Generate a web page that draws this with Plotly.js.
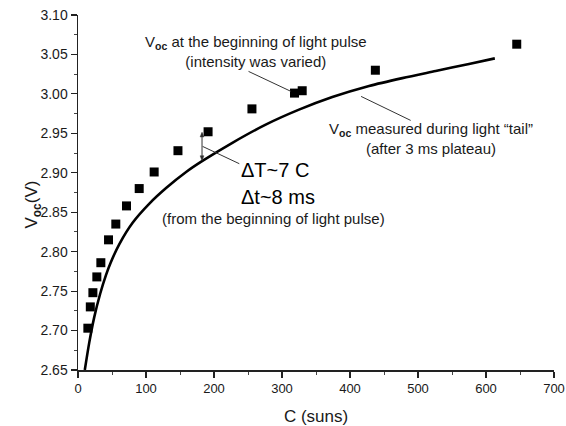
<!DOCTYPE html>
<html>
<head>
<meta charset="utf-8">
<script src="https://cdn.plot.ly/plotly-3.0.1.min.js"></script>
<style>
  html, body { margin: 0; padding: 0; background: #fff; }
  #chart { width: 566px; height: 426px; }
</style>
</head>
<body>
<div id="chart"></div>
<script>
// Voc at the beginning of light pulse (squares)
const pulseC = [14.5, 18.1, 21.9, 27.7, 33.6, 44.9, 55.6, 71.3, 90.0, 112, 147, 191.3, 255.8, 318.4, 329.7, 437.3, 645.2];
const pulseV = [2.703, 2.730, 2.748, 2.768, 2.786, 2.815, 2.835, 2.858, 2.880, 2.901, 2.928, 2.952, 2.981, 3.001, 3.004, 3.030, 3.063];

// Voc measured during light "tail" (solid curve)
const tailC = [10, 16.6, 23.9, 32.7, 41, 48, 61, 80.6, 105, 130, 159, 183, 227, 276, 325, 374, 428, 477, 526, 575, 613];
const tailV = [2.650, 2.685, 2.717, 2.747, 2.770, 2.786, 2.810, 2.837, 2.861, 2.881, 2.901, 2.915, 2.938, 2.961, 2.980, 2.996, 3.010, 3.020, 3.029, 3.038, 3.045];

const xTicks = [0, 100, 200, 300, 400, 500, 600, 700];
const yTicks = [2.65, 2.70, 2.75, 2.80, 2.85, 2.90, 2.95, 3.00, 3.05, 3.10];

const FONT = 'Liberation Sans, Arial, sans-serif';
const INK = '#1a1a1a';

const traces = [
  {
    x: tailC, y: tailV, type: 'scatter', mode: 'lines',
    line: {color: '#000', width: 2.6, shape: 'spline', smoothing: 0.8},
    cliponaxis: true, showlegend: false, hoverinfo: 'skip'
  },
  {
    x: pulseC, y: pulseV, type: 'scatter', mode: 'markers',
    marker: {symbol: 'square', size: 9, color: '#000'},
    showlegend: false, hoverinfo: 'skip'
  }
];

function leader(x0, y0, x1, y1) {
  return {type: 'line', xref: 'x', yref: 'y', x0: x0, y0: y0, x1: x1, y1: y1,
          line: {color: '#333', width: 1}};
}

const layout = {
  width: 566, height: 426,
  margin: {l: 78, r: 12, t: 15, b: 56},
  paper_bgcolor: '#fff', plot_bgcolor: '#fff',
  font: {family: FONT, color: INK, size: 14},
  showlegend: false,
  xaxis: {
    range: [0, 700], tickvals: xTicks, ticktext: xTicks.map(String),
    showgrid: false, zeroline: false,
    showline: true, linecolor: '#222', linewidth: 1.5,
    ticks: 'outside', ticklen: 6, tickwidth: 1.2, tickcolor: '#222',
    minor: {dtick: 50, ticks: 'outside', ticklen: 3, tickwidth: 1, tickcolor: '#444', showgrid: false},
    tickfont: {family: FONT, size: 13, color: INK},
    ticklabeloverflow: 'allow',
    title: {text: 'C (suns)', font: {family: FONT, size: 17, color: INK}, standoff: 17}
  },
  yaxis: {
    range: [2.65, 3.10], tickvals: yTicks, ticktext: yTicks.map(v => v.toFixed(2)),
    showgrid: false, zeroline: false,
    showline: true, linecolor: '#222', linewidth: 1.5,
    ticks: 'outside', ticklen: 6, tickwidth: 1.2, tickcolor: '#222',
    minor: {dtick: 0.025, tick0: 2.65, ticks: 'outside', ticklen: 3, tickwidth: 1, tickcolor: '#444', showgrid: false},
    tickfont: {family: FONT, size: 14, color: INK},
    ticklabeloverflow: 'allow'
  },
  shapes: [
    leader(250.8, 3.0285, 313.1, 3.0032),
    leader(416.3, 2.9968, 489.2, 2.9664),
    leader(183.3, 2.9334, 237.2, 2.9115),
    // vertical double arrow (shaft + heads)
    leader(182.4, 2.917, 182.4, 2.950),
    {type: 'path', xref: 'x', yref: 'y', path: 'M 182.4 2.9515 L 179.6 2.9455 L 185.2 2.9455 Z',
     fillcolor: '#333', line: {color: '#333', width: 0.5}},
    {type: 'path', xref: 'x', yref: 'y', path: 'M 182.4 2.9155 L 179.6 2.9215 L 185.2 2.9215 Z',
     fillcolor: '#333', line: {color: '#333', width: 0.5}}
  ],
  annotations: [
    {x: -0.122, y: 0.466, xref: 'paper', yref: 'paper', showarrow: false, textangle: -90,
     text: 'V<sub><b>oc</b></sub>(V)', font: {family: FONT, size: 17, color: INK}},
    {x: 262, y: 3.0535, xref: 'x', yref: 'y', showarrow: false, align: 'center',
     text: 'V<sub><b>oc</b></sub> at the beginning of light pulse<br>(intensity was varied)',
     font: {family: FONT, size: 15, color: INK}},
    {x: 519.7, y: 2.9432, xref: 'x', yref: 'y', showarrow: false, align: 'center',
     text: 'V<sub><b>oc</b></sub> measured during light \u201ctail\u201d<br>(after 3 ms plateau)',
     font: {family: FONT, size: 15, color: INK}},
    {x: 237.2, y: 2.9039, xref: 'x', yref: 'y', showarrow: false, xanchor: 'left',
     text: '\u0394T~7 C', font: {family: FONT, size: 20, color: '#000'}},
    {x: 237.2, y: 2.8697, xref: 'x', yref: 'y', showarrow: false, xanchor: 'left',
     text: '\u0394t~8 ms', font: {family: FONT, size: 20, color: '#000'}},
    {x: 288, y: 2.8418, xref: 'x', yref: 'y', showarrow: false,
     text: '(from the beginning of light pulse)', font: {family: FONT, size: 15, color: INK}}
  ]
};

Plotly.newPlot('chart', traces, layout, {staticPlot: true, displayModeBar: false});
</script>
</body>
</html>
